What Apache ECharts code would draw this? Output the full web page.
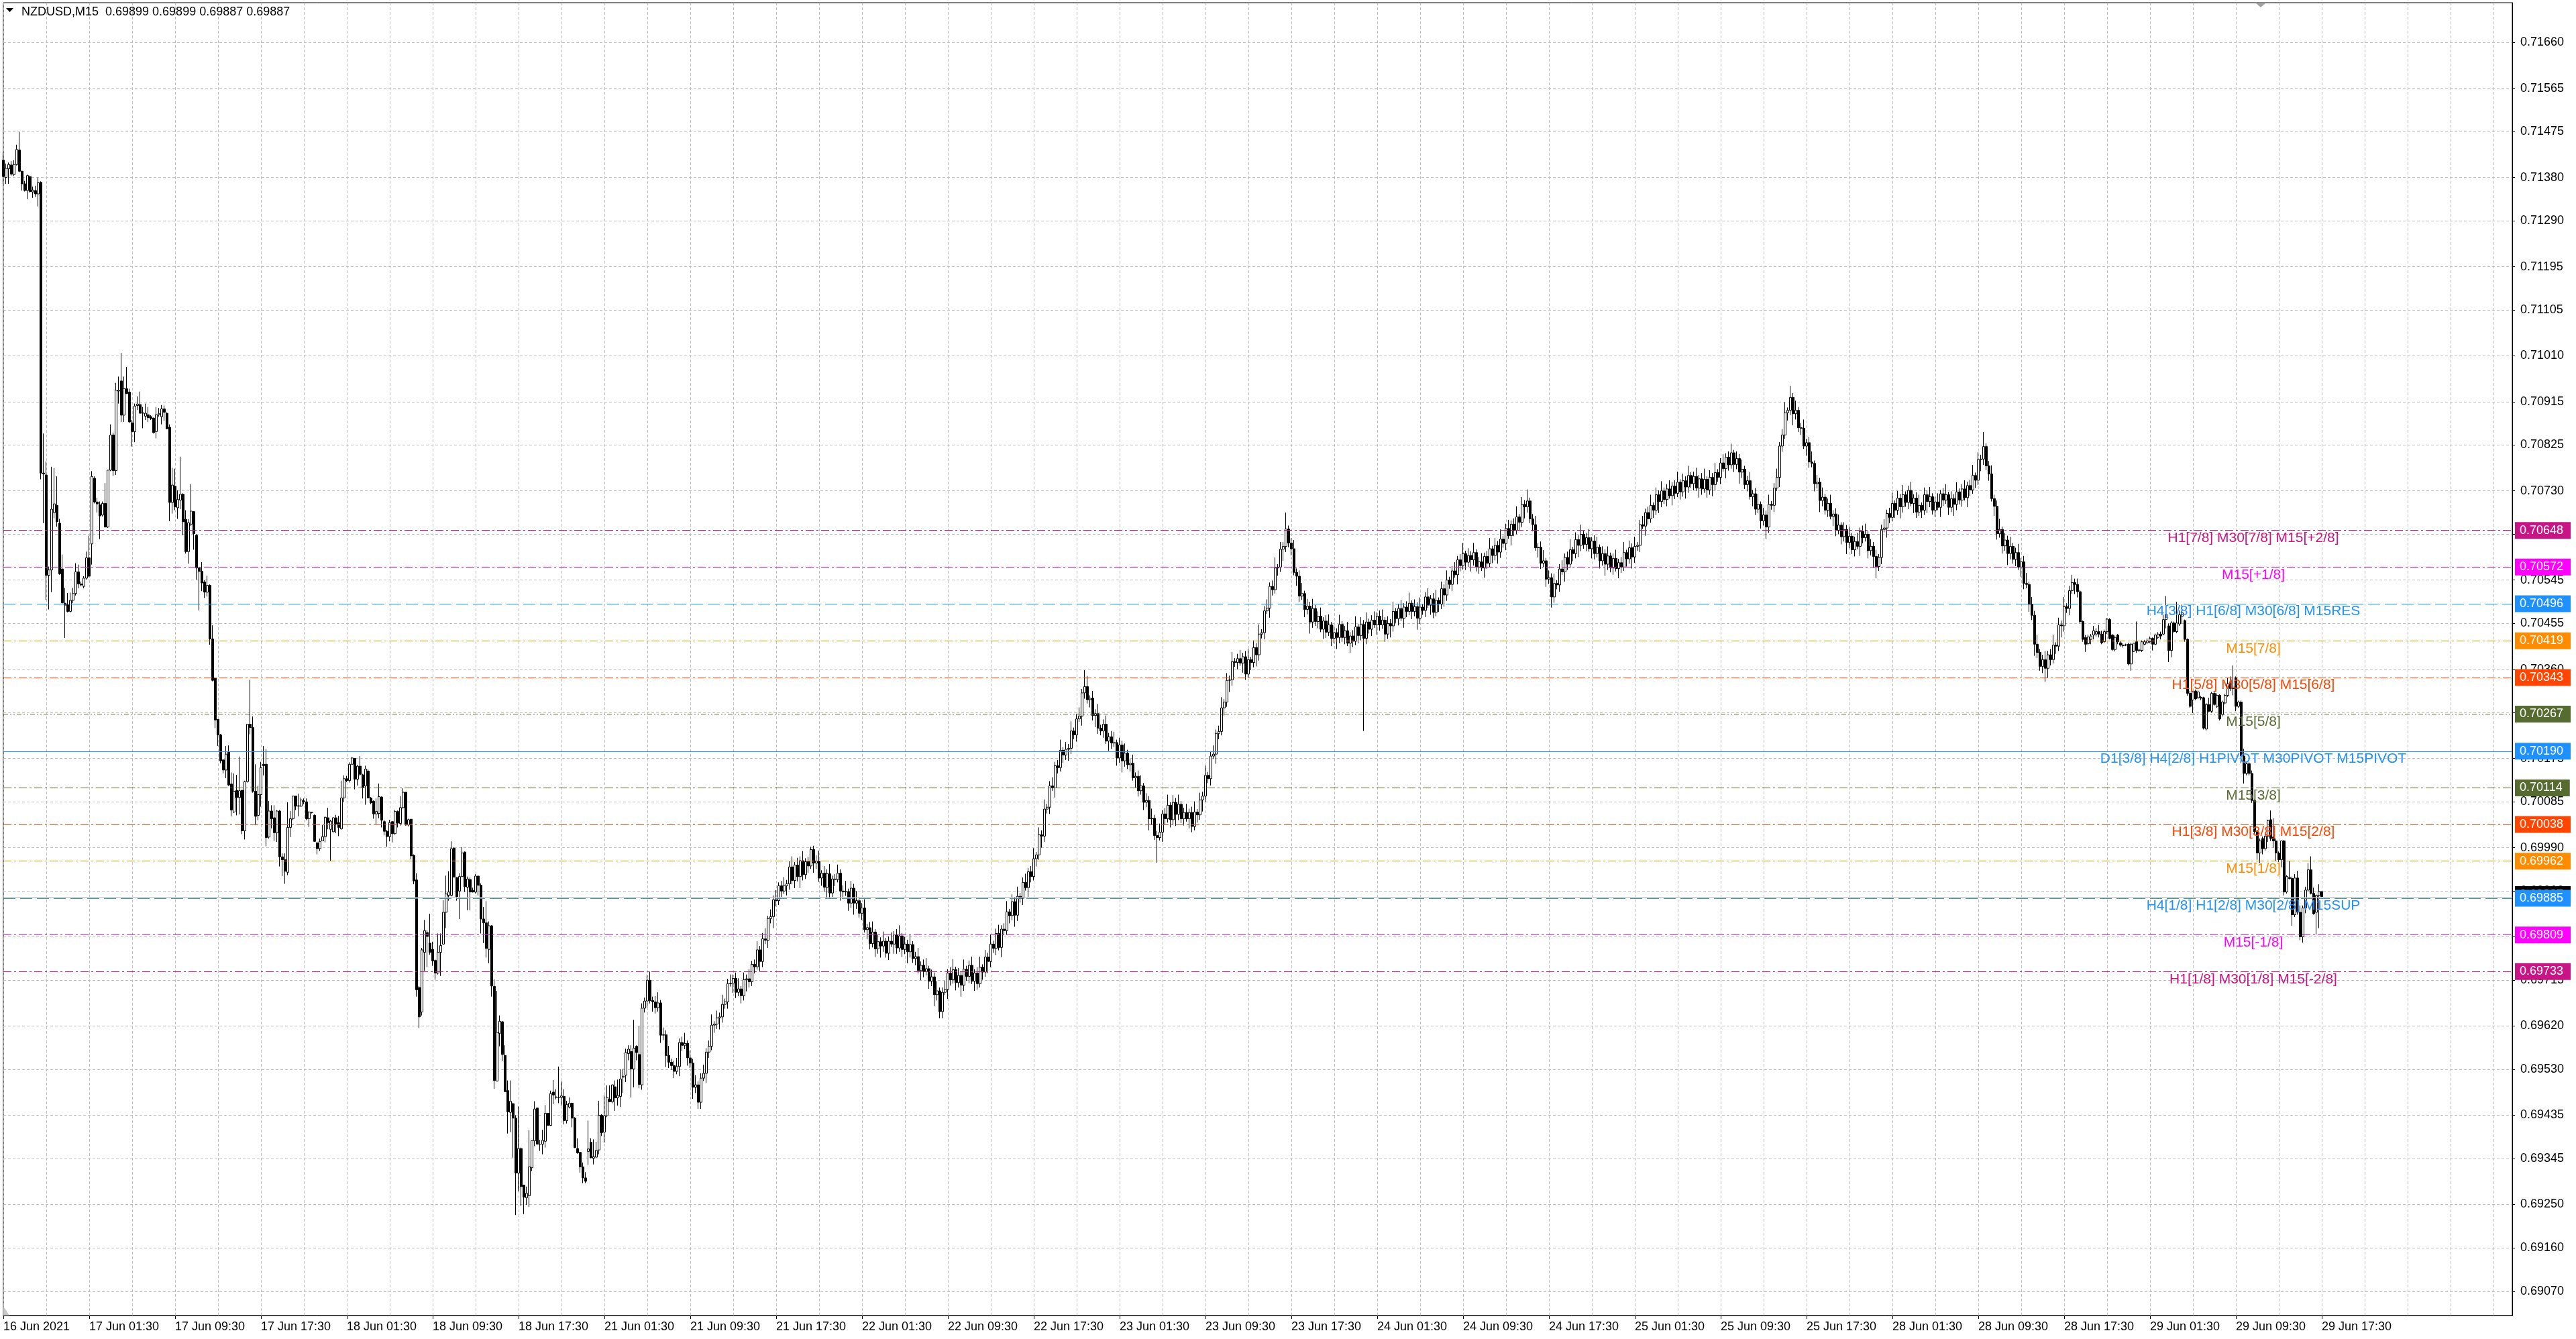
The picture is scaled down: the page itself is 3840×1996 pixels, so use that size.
<!DOCTYPE html>
<html><head><meta charset="utf-8">
<script src="https://cdn.jsdelivr.net/npm/echarts@6/dist/echarts.min.js"></script>
<style>html,body{margin:0;padding:0;background:#fff}#c{width:3840px;height:1996px}</style>
</head><body><div id="c"></div>
<script>
const SYMBOL = 'NZDUSD,M15';
const POINT = 0.00001;
// One row per 15-minute bar: [open, high, low, close] in points (1e-5)
const jun16 = [
[71416,71432,71367,71382],[71380,71409,71367,71399],[71398,71411,71367,71407],[71406,71414,71384,71387],
[71386,71416,71383,71407],[71407,71448,71405,71438],[71437,71474,71391,71393],[71393,71394,71353,71367],
[71367,71373,71351,71353],[71353,71386,71335,71384],[71382,71384,71349,71351],[71350,71361,71338,71354],
[71353,71363,71340,71346],[71346,71380,71320,71369],[71370,71372,70754,70767],[70767,70849,70663,70765],
[70763,70791,70504,70555],[70555,70573,70484,70566],[70566,70780,70520,70692],[70685,70777,70673,70703],
[70700,70760,70656,70666],[70663,70672,70556,70558],[70568,70598,70496,70498],[70497,70529,70425,70493],
[70494,70518,70478,70480],[70480,70519,70478,70503]
];
const jun17 = [
[70503,70529,70497,70517],[70517,70580,70513,70562],[70562,70577,70528,70537],[70537,70542,70532,70535],
[70532,70553,70528,70549],[70549,70604,70546,70591],[70591,70637,70551,70553],[70620,70771,70577,70760],
[70756,70760,70704,70707],[70707,70716,70685,70703],[70701,70708,70630,70678],[70680,70708,70677,70704],
[70704,70746,70655,70655],[70655,70773,70653,70773],[70773,70868,70771,70846],[70846,70851,70761,70772],
[70772,70954,70763,70939],[70937,70967,70911,70939],[70958,71016,70873,70887],[70887,70967,70873,70942],
[70942,70987,70931,70932],[70935,70942,70871,70873],[70871,70877,70822,70853],[70853,70911,70831,70906],
[70907,70926,70898,70910],[70909,70936,70891,70891],[70891,70904,70860,70892],[70885,70911,70877,70891],
[70888,70904,70873,70882],[70884,70887,70877,70880],[70881,70882,70849,70851],[70853,70904,70839,70888],
[70888,70902,70884,70890],[70884,70908,70868,70900],[70900,70907,70875,70893],[70891,70893,70858,70859],
[70862,70868,70667,70706],[70706,70778,70683,70742],[70740,70776,70690,70697],[70695,70731,70672,70712],
[70711,70801,70692,70723],[70723,70725,70638,70666],[70671,70690,70600,70604],[70604,70671,70579,70664],
[70661,70744,70657,70688],[70687,70688,70608,70641],[70638,70640,70546,70570],[70570,70572,70482,70563],
[70563,70582,70522,70539],[70541,70545,70508,70520],[70520,70554,70511,70534],[70534,70536,70411,70423],
[70423,70451,70335,70337],[70342,70342,70238,70255],[70256,70256,70201,70224],[70224,70226,70165,70170],
[70172,70172,70144,70151],[70151,70201,70134,70184],[70189,70202,70118,70120],[70122,70146,70055,70068],
[70064,70144,70062,70107],[70109,70141,70057,70094],[70094,70179,70059,70108],[70109,70109,70018,70025],
[70025,70129,70007,70127],[70127,70246,70125,70246],[70246,70338,70225,70239],[70239,70262,70104,70107],
[70107,70163,70037,70055],[70057,70118,70047,70100],[70100,70168,70075,70156],[70163,70201,70140,70160],
[70163,70194,69993,70011],[70012,70087,70009,70066],[70066,70078,70030,70050],[70052,70078,70004,70021],
[70021,70068,70002,70066],[70066,70068,69951,69971],[69971,69978,69931,69965],[69965,69978,69915,69941],
[69939,70084,69933,70032],[70032,70066,70012,70050],[70050,70097,70047,70097],[70097,70097,70068,70076],
[70077,70102,70055,70076],[70076,70094,70075,70089],[70087,70092,70080,70086],[70085,70092,70047,70050],
[70050,70066,70033,70064],[70063,70064,70061,70063],[70057,70059,70002,70003],[70000,70002,69976,69988],
[69988,70009,69983,70003],[70004,70037,70004,70013],[70013,70055,70001,70053],[70052,70073,70028,70042]
];
const jun18 = [
[70028,70048,69963,70045],[70023,70053,70022,70052],[70052,70058,70020,70039],[70042,70056,70014,70032],
[70029,70129,70027,70093],[70093,70140,70084,70133],[70133,70139,70126,70129],[70129,70167,70125,70163],
[70163,70178,70162,70176],[70175,70176,70111,70132],[70132,70162,70119,70159],[70159,70180,70139,70142],
[70141,70143,70092,70115],[70118,70160,70079,70153],[70149,70153,70092,70093],[70093,70095,70080,70083],
[70086,70088,70050,70060],[70060,70092,70039,70065],[70061,70123,70051,70096],[70095,70096,70032,70047],
[70044,70048,70016,70024],[70024,70027,69992,70013],[70013,70048,70003,70042],[70044,70045,70001,70019],
[70019,70068,70017,70065],[70065,70067,70032,70041],[70040,70097,70036,70073],[70073,70113,70071,70105],
[70105,70105,70036,70037],[70037,70050,70034,70048],[70049,70049,69966,69973],[69974,69976,69914,69921],
[69923,69937,69681,69695],[69700,69703,69616,69639],[69649,69782,69642,69778],[69773,69840,69735,69818],
[69814,69819,69742,69806],[69792,69853,69768,69773],[69779,69795,69745,69755],[69756,69758,69716,69730],
[69730,69812,69727,69773],[69773,69812,69724,69787],[69790,69881,69789,69856],[69856,69932,69823,69894],
[69891,69941,69880,69898],[69891,70003,69889,69988],[69989,69991,69928,69929],[69928,69929,69880,69888],
[69900,69937,69842,69930],[69930,69991,69929,69979],[69981,69982,69898,69909],[69908,69930,69860,69925],
[69924,69928,69860,69898],[69901,69907,69897,69898],[69898,69935,69895,69931],[69931,69932,69891,69912],
[69912,69916,69812,69842],[69842,69867,69792,69834],[69834,69879,69762,69781],[69779,69837,69750,69828],
[69828,69829,69681,69703],[69702,69717,69490,69507],[69506,69693,69505,69607],[69605,69642,69578,69630],
[69629,69630,69547,69561],[69559,69580,69484,69484],[69486,69507,69397,69442],[69441,69507,69400,69464],
[69459,69461,69347,69429],[69429,69435,69228,69315],[69315,69453,69277,69366],[69366,69368,69247,69287],
[69290,69291,69230,69265],[69264,69287,69249,69273],[69268,69404,69245,69328],[69326,69383,69319,69382],
[69382,69464,69371,69448],[69450,69451,69374,69375],[69375,69384,69361,69375],[69375,69405,69354,69383],
[69381,69456,69368,69439],[69439,69440,69413,69414],[69414,69486,69413,69480],[69483,69508,69458,69477],
[69473,69489,69468,69472],[69472,69536,69460,69472],[69472,69505,69455,69475],[69474,69489,69416,69424],
[69424,69465,69418,69457],[69452,69472,69449,69460],[69460,69461,69410,69429],[69429,69431,69367,69368],
[69366,69387,69355,69357],[69358,69359,69316,69328],[69328,69337,69294,69305],[69305,69317,69294,69298]
];
const jun21 = [
[69360,69424,69332,69365],[69379,69387,69346,69347],[69346,69385,69333,69349],[69348,69380,69347,69362],
[69363,69465,69354,69435],[69435,69437,69392,69399],[69400,69476,69378,69434],[69434,69497,69431,69472],
[69468,69497,69462,69463],[69463,69499,69460,69498],[69494,69507,69444,69471],[69471,69509,69455,69476],
[69474,69530,69452,69510],[69514,69531,69481,69516],[69518,69573,69504,69565],[69563,69580,69549,69572],
[69567,69580,69472,69531],[69531,69633,69493,69574],[69578,69580,69549,69565],[69561,69620,69491,69499],
[69498,69667,69488,69657],[69657,69679,69648,69672],[69672,69725,69658,69715],[69715,69733,69667,69673],
[69673,69681,69650,69670],[69670,69682,69646,69658],[69658,69690,69650,69668],[69668,69674,69585,69601],
[69601,69617,69591,69602],[69602,69611,69535,69559],[69559,69579,69533,69545],[69545,69552,69529,69538],
[69538,69548,69512,69526],[69526,69554,69520,69536],[69536,69594,69516,69586],[69586,69598,69568,69580],
[69580,69606,69572,69584],[69584,69590,69538,69554],[69554,69569,69533,69543],[69543,69552,69469,69493],
[69493,69518,69481,69498],[69498,69505,69448,69462],[69462,69522,69448,69512],[69512,69540,69506,69522],
[69522,69574,69502,69566],[69566,69590,69554,69578],[69578,69644,69570,69622],[69622,69630,69606,69624],
[69624,69652,69614,69637],[69637,69648,69613,69639],[69639,69685,69627,69665],[69665,69677,69656,69670],
[69670,69718,69656,69708],[69708,69727,69702,69709],[69709,69727,69689,69719],[69719,69731,69678,69690],
[69690,69719,69682,69697],[69697,69703,69667,69683],[69683,69731,69673,69716],[69716,69727,69692,69718],
[69718,69738,69700,69712],[69712,69755,69703,69748],[69748,69758,69729,69743],[69743,69796,69737,69778],
[69778,69786,69734,69754],[69754,69813,69742,69801],[69801,69823,69790,69798],[69798,69849,69782,69843],
[69843,69862,69833,69847],[69847,69891,69823,69882],[69882,69902,69868,69880],[69880,69918,69871,69911],
[69911,69921,69886,69900],[69900,69929,69894,69911],[69911,69923,69891,69915],[69915,69962,69903,69950],
[69950,69972,69914,69922],[69922,69960,69906,69954],[69954,69969,69920,69930],[69930,69972,69906,69963],
[69963,69983,69922,69934],[69934,69968,69925,69961],[69961,69971,69938,69952],[69952,69992,69946,69986],
[69986,69994,69938,69958],[69958,69974,69946,69962],[69962,69984,69919,69927],[69927,69943,69911,69937],
[69937,69952,69898,69908],[69908,69945,69884,69936],[69936,69956,69884,69896],[69896,69932,69887,69925],
[69925,69935,69910,69924],[69924,69955,69918,69937],[69937,69945,69880,69900],[69900,69912,69886,69898]
];
const jun22 = [
[69898,69921,69890,69899],[69899,69905,69859,69875],[69875,69921,69865,69906],[69906,69915,69851,69875],
[69875,69900,69863,69880],[69880,69887,69845,69854],[69854,69875,69840,69865],[69865,69883,69814,69820],
[69820,69832,69800,69824],[69824,69836,69779,69791],[69791,69837,69783,69815],[69815,69821,69764,69780],
[69780,69810,69770,69795],[69795,69804,69762,69786],[69786,69816,69774,69796],[69796,69803,69762,69771],
[69771,69806,69757,69796],[69796,69814,69784,69790],[69790,69817,69770,69809],[69809,69821,69770,69782],
[69782,69829,69774,69807],[69807,69813,69763,69779],[69779,69805,69769,69790],[69790,69799,69750,69774],
[69774,69809,69762,69789],[69789,69796,69751,69760],[69760,69774,69746,69764],[69764,69782,69729,69735],
[69735,69754,69715,69746],[69746,69758,69721,69733],[69733,69761,69725,69739],[69739,69745,69697,69713],
[69713,69737,69703,69722],[69722,69731,69661,69685],[69685,69713,69673,69693],[69693,69700,69636,69650],
[69650,69700,69636,69690],[69690,69714,69684,69696],[69696,69738,69676,69730],[69730,69742,69704,69716],
[69716,69759,69708,69737],[69737,69743,69694,69710],[69710,69740,69700,69725],[69725,69734,69681,69705],
[69705,69758,69693,69738],[69738,69745,69714,69723],[69723,69756,69709,69746],[69746,69764,69707,69713],
[69713,69738,69693,69730],[69730,69742,69696,69708],[69708,69764,69700,69742],[69742,69748,69716,69732],
[69732,69778,69722,69763],[69763,69772,69730,69754],[69754,69810,69742,69790],[69790,69797,69772,69781],
[69781,69822,69767,69812],[69812,69830,69777,69783],[69783,69829,69763,69821],[69821,69833,69808,69818],
[69818,69879,69810,69857],[69857,69863,69833,69849],[69849,69893,69839,69878],[69878,69887,69826,69850],
[69850,69909,69838,69889],[69889,69896,69876,69885],[69885,69928,69871,69918],[69918,69936,69901,69907],
[69907,69948,69887,69940],[69940,69952,69918,69930],[69930,69989,69922,69967],[69967,69981,69951,69975],
[69975,70032,69965,70017],[70017,70026,69990,70014],[70014,70090,70002,70070],[70070,70081,70061,70074],
[70074,70128,70060,70118],[70118,70136,70108,70114],[70114,70168,70094,70160],[70160,70172,70144,70156],
[70156,70214,70148,70192],[70192,70198,70166,70182],[70182,70209,70172,70194],[70194,70205,70170,70196],
[70196,70252,70184,70232],[70232,70239,70215,70224],[70224,70267,70210,70257],[70257,70281,70251,70263],
[70263,70319,70243,70311],[70311,70358,70299,70324],[70324,70346,70289,70297],[70297,70306,70281,70300],
[70300,70315,70254,70264],[70264,70277,70240,70268],[70268,70288,70226,70238],[70238,70245,70223,70232]
];
const jun23 = [
[70232,70256,70218,70246],[70246,70264,70205,70211],[70211,70228,70191,70220],[70220,70232,70195,70207],
[70207,70230,70199,70208],[70208,70214,70160,70176],[70176,70218,70166,70203],[70203,70212,70146,70170],
[70170,70206,70158,70186],[70186,70193,70153,70162],[70162,70175,70148,70165],[70165,70183,70129,70135],
[70135,70146,70115,70138],[70138,70150,70096,70108],[70108,70140,70100,70118],[70118,70124,70068,70084],
[70084,70103,70074,70088],[70088,70097,70026,70050],[70050,70071,70038,70051],[70051,70058,70006,70015],
[70015,70025,69959,70011],[70011,70040,70005,70022],[70022,70068,70002,70060],[70060,70072,70038,70050],
[70050,70100,70042,70078],[70078,70084,70032,70048],[70048,70099,70038,70084],[70084,70093,70035,70059],
[70059,70100,70047,70080],[70080,70087,70041,70050],[70050,70073,70036,70063],[70063,70081,70044,70050],
[70050,70071,70030,70063],[70063,70075,70022,70034],[70034,70086,70026,70064],[70064,70070,70042,70058],
[70058,70104,70048,70089],[70089,70106,70065,70097],[70097,70160,70085,70140],[70140,70147,70124,70133],
[70133,70190,70119,70180],[70180,70202,70174,70184],[70184,70235,70164,70227],[70227,70243,70215,70231],
[70231,70302,70223,70280],[70280,70298,70264,70292],[70292,70352,70282,70337],[70337,70347,70313,70338],
[70338,70396,70326,70376],[70376,70383,70365,70374],[70374,70392,70360,70382],[70382,70400,70367,70373],
[70373,70394,70353,70386],[70386,70398,70338,70350],[70350,70402,70342,70380],[70380,70386,70358,70374],
[70374,70420,70364,70405],[70405,70414,70366,70390],[70390,70453,70378,70433],[70433,70443,70424,70436],
[70436,70491,70422,70481],[70481,70505,70475,70487],[70487,70540,70467,70532],[70532,70544,70513,70525],
[70525,70592,70517,70570],[70570,70578,70554,70572],[70572,70624,70562,70609],[70609,70624,70585,70615],
[70615,70685,70603,70651],[70651,70658,70613,70622],[70622,70632,70596,70610],[70610,70628,70555,70561],
[70561,70569,70533,70553],[70553,70565,70500,70512],[70512,70539,70504,70517],[70517,70523,70468,70484],
[70484,70506,70474,70491],[70491,70500,70434,70458],[70458,70506,70446,70486],[70486,70493,70450,70459],
[70459,70480,70445,70470],[70470,70488,70437,70443],[70443,70468,70423,70460],[70460,70472,70425,70437],
[70437,70474,70429,70452],[70452,70458,70408,70424],[70424,70451,70414,70436],[70436,70445,70402,70426],
[70426,70473,70414,70453],[70453,70460,70417,70426],[70426,70450,70412,70440],[70440,70458,70408,70414],
[70414,70437,70394,70429],[70429,70441,70406,70418],[70418,70470,70410,70448],[70448,70454,70414,70430]
];
const jun24 = [
[70430,70468,70420,70453],[70453,70462,70232,70424],[70424,70478,70412,70458],[70458,70465,70434,70443],
[70443,70472,70429,70462],[70462,70480,70446,70452],[70452,70478,70432,70470],[70470,70482,70440,70452],
[70452,70484,70444,70462],[70462,70468,70417,70433],[70433,70470,70423,70455],[70455,70464,70426,70450],
[70450,70500,70438,70480],[70480,70487,70456,70465],[70465,70496,70451,70486],[70486,70504,70460,70466],
[70466,70497,70446,70489],[70489,70501,70468,70480],[70480,70519,70472,70497],[70497,70503,70464,70480],
[70480,70505,70470,70490],[70490,70499,70442,70466],[70466,70509,70454,70489],[70489,70496,70473,70482],
[70482,70520,70468,70510],[70510,70528,70487,70493],[70493,70514,70473,70506],[70506,70518,70466,70478],
[70478,70525,70470,70503],[70503,70509,70479,70495],[70495,70542,70485,70527],[70527,70536,70490,70514],
[70514,70565,70502,70545],[70545,70552,70527,70536],[70536,70574,70522,70564],[70564,70582,70550,70556],
[70556,70595,70536,70587],[70587,70599,70563,70575],[70575,70622,70567,70600],[70600,70606,70566,70582],
[70582,70611,70572,70596],[70596,70605,70563,70587],[70587,70622,70575,70602],[70602,70609,70563,70572],
[70572,70593,70558,70583],[70583,70601,70564,70570],[70570,70602,70550,70594],[70594,70606,70568,70580],
[70580,70632,70572,70610],[70610,70616,70580,70596],[70596,70632,70586,70617],[70617,70626,70579,70603],
[70603,70650,70591,70630],[70630,70637,70612,70621],[70621,70662,70607,70652],[70652,70670,70631,70637],
[70637,70669,70617,70661],[70661,70673,70636,70648],[70648,70698,70640,70676],[70676,70682,70649,70665],
[70665,70717,70655,70702],[70702,70711,70673,70697],[70697,70733,70685,70709],[70709,70716,70663,70672],
[70672,70682,70646,70660],[70660,70678,70606,70612],[70612,70621,70592,70613],[70613,70625,70568,70580],
[70580,70607,70572,70585],[70585,70591,70531,70547],[70547,70565,70537,70550],[70550,70559,70488,70510],
[70510,70558,70498,70538],[70538,70545,70526,70535],[70535,70578,70521,70568],[70568,70586,70556,70562],
[70562,70600,70542,70592],[70592,70604,70566,70578],[70578,70630,70570,70608],[70608,70614,70584,70600],
[70600,70644,70590,70629],[70629,70638,70593,70617],[70617,70660,70605,70640],[70640,70647,70610,70619],
[70619,70643,70605,70633],[70633,70651,70604,70610],[70610,70634,70590,70626],[70626,70638,70588,70600],
[70600,70635,70592,70613],[70613,70619,70569,70585],[70585,70615,70575,70600],[70600,70609,70554,70578],
[70578,70615,70566,70595],[70595,70602,70561,70570],[70570,70600,70556,70590],[70590,70608,70563,70569]
];
const jun25 = [
[70569,70589,70549,70581],[70581,70593,70560,70572],[70572,70624,70564,70602],[70602,70608,70573,70589],
[70589,70627,70579,70612],[70612,70621,70569,70593],[70593,70635,70581,70615],[70615,70624,70606,70617],
[70617,70670,70603,70660],[70660,70678,70651,70657],[70657,70693,70637,70685],[70685,70697,70660,70672],
[70672,70722,70664,70700],[70700,70706,70674,70690],[70690,70737,70680,70722],[70722,70731,70684,70708],
[70708,70750,70696,70730],[70730,70737,70703,70712],[70712,70744,70698,70734],[70734,70752,70714,70720],
[70720,70748,70700,70740],[70740,70752,70713,70725],[70725,70770,70717,70748],[70748,70754,70712,70728],
[70728,70766,70718,70751],[70751,70760,70714,70738],[70738,70782,70726,70762],[70762,70769,70736,70745],
[70745,70770,70731,70760],[70760,70778,70730,70736],[70736,70763,70716,70755],[70755,70767,70722,70734],
[70734,70776,70726,70754],[70754,70760,70716,70732],[70732,70773,70722,70758],[70758,70767,70719,70743],
[70743,70788,70731,70768],[70768,70775,70749,70758],[70758,70798,70744,70788],[70788,70806,70770,70776],
[70776,70808,70756,70800],[70800,70812,70772,70784],[70784,70828,70776,70809],[70809,70815,70769,70785],
[70785,70812,70775,70797],[70797,70806,70745,70769],[70769,70795,70757,70775],[70775,70782,70734,70743],
[70743,70761,70729,70751],[70751,70769,70712,70718],[70718,70732,70698,70724],[70724,70736,70680,70692],
[70692,70724,70684,70702],[70702,70708,70652,70668],[70668,70695,70658,70680],[70680,70689,70631,70655],
[70655,70722,70643,70702],[70702,70709,70691,70700],[70700,70746,70686,70736],[70736,70776,70730,70758],
[70758,70831,70738,70823],[70823,70858,70811,70846],[70846,70914,70838,70892],[70892,70903,70876,70897],
[70897,70948,70887,70924],[70924,70933,70866,70890],[70890,70917,70878,70897],[70897,70904,70852,70861],
[70861,70871,70846,70860],[70860,70878,70817,70823],[70823,70838,70803,70830],[70830,70842,70778,70790],
[70790,70812,70779,70787],[70787,70793,70729,70745],[70745,70763,70735,70748],[70748,70757,70686,70710],
[70710,70737,70698,70717],[70717,70724,70681,70690],[70690,70714,70676,70704],[70704,70722,70671,70677],
[70677,70690,70657,70682],[70682,70694,70636,70648],[70648,70681,70640,70659],[70659,70665,70619,70635],
[70635,70665,70625,70650],[70650,70659,70599,70623],[70623,70656,70611,70636],[70636,70643,70599,70608],
[70608,70635,70594,70625],[70625,70643,70609,70615],[70615,70654,70595,70646],[70646,70658,70621,70633],
[70633,70662,70625,70640],[70640,70646,70590,70606],[70606,70630,70596,70615],[70615,70624,70570,70594]
];
const jun28 = [
[70594,70608,70549,70573],[70573,70599,70564,70592],[70592,70660,70578,70650],[70650,70671,70644,70653],
[70653,70691,70633,70683],[70683,70695,70663,70675],[70675,70726,70667,70704],[70704,70710,70674,70690],
[70690,70730,70680,70715],[70715,70724,70673,70697],[70697,70742,70685,70722],[70722,70729,70697,70706],
[70706,70741,70692,70731],[70731,70749,70698,70704],[70704,70723,70684,70715],[70715,70727,70674,70686],
[70686,70722,70678,70700],[70700,70706,70674,70690],[70690,70737,70680,70722],[70722,70731,70684,70708],
[70708,70738,70696,70718],[70718,70725,70681,70690],[70690,70717,70676,70707],[70707,70725,70690,70696],
[70696,70732,70676,70724],[70724,70736,70699,70711],[70711,70744,70703,70722],[70722,70728,70680,70696],
[70696,70729,70686,70714],[70714,70723,70678,70702],[70702,70748,70690,70728],[70728,70735,70702,70711],
[70711,70744,70697,70734],[70734,70752,70710,70716],[70716,70749,70696,70741],[70741,70753,70720,70732],
[70732,70784,70724,70762],[70762,70768,70736,70752],[70752,70810,70742,70795],[70795,70805,70771,70796],
[70796,70852,70784,70822],[70822,70829,70773,70782],[70782,70792,70751,70765],[70765,70783,70708,70714],
[70714,70722,70678,70698],[70698,70710,70629,70641],[70641,70672,70633,70650],[70650,70656,70600,70616],
[70616,70643,70606,70628],[70628,70637,70576,70600],[70600,70635,70588,70615],[70615,70622,70579,70588],
[70588,70612,70574,70602],[70602,70620,70566,70572],[70572,70591,70552,70583],[70583,70595,70526,70538],
[70538,70560,70528,70536],[70536,70542,70479,70495],[70495,70510,70462,70472],[70472,70481,70388,70412],
[70412,70432,70383,70395],[70395,70402,70357,70366],[70366,70390,70352,70380],[70380,70398,70334,70362],
[70362,70398,70342,70390],[70390,70402,70368,70380],[70380,70432,70372,70410],[70410,70416,70392,70408],
[70408,70467,70398,70452],[70452,70461,70426,70450],[70450,70510,70438,70490],[70490,70497,70477,70486],
[70486,70533,70472,70523],[70523,70556,70517,70540],[70540,70548,70516,70536],[70536,70548,70509,70521],
[70521,70525,70455,70459],[70459,70461,70417,70422],[70426,70431,70396,70412],[70413,70432,70410,70427],
[70422,70433,70412,70429],[70431,70450,70422,70440],[70433,70445,70428,70438],[70438,70452,70426,70433],
[70433,70440,70412,70415],[70417,70442,70414,70438],[70438,70466,70433,70464],[70463,70466,70422,70424],
[70431,70433,70398,70401],[70401,70430,70397,70426],[70431,70433,70412,70417],[70415,70418,70407,70410],
[70410,70414,70405,70409],[70410,70413,70408,70411],[70412,70415,70368,70371],[70371,70415,70357,70412]
];
const jun29 = [
[70397,70415,70396,70414],[70417,70459,70394,70399],[70399,70403,70396,70400],[70399,70420,70396,70417],
[70412,70421,70410,70417],[70415,70424,70412,70419],[70417,70428,70414,70424],[70424,70426,70399,70412],
[70412,70434,70410,70431],[70426,70437,70423,70433],[70433,70438,70422,70429],[70433,70473,70431,70463],
[70463,70512,70445,70474],[70450,70455,70375,70399],[70399,70460,70385,70456],[70456,70459,70436,70438],
[70438,70500,70435,70456],[70454,70482,70450,70473],[70470,70494,70454,70477],[70461,70463,70417,70422],
[70422,70424,70305,70310],[70310,70315,70280,70283],[70296,70314,70269,70313],[70315,70318,70296,70299],
[70301,70316,70298,70313],[70302,70305,70296,70300],[70301,70303,70235,70238],[70236,70290,70233,70287],
[70287,70301,70271,70273],[70273,70313,70270,70310],[70310,70313,70284,70287],[70283,70310,70280,70306],
[70306,70308,70254,70257],[70266,70295,70262,70292],[70290,70309,70287,70306],[70306,70343,70303,70330],
[70330,70345,70315,70320],[70320,70368,70306,70321],[70343,70345,70273,70283],[70283,70295,70280,70292],
[70292,70295,70165,70180],[70180,70195,70123,70144],[70144,70168,70140,70164],[70164,70167,70140,70144],
[70144,70150,70083,70088],[70088,70090,70018,70023],[70023,70027,69965,69979],[69979,70009,69958,70004],
[70009,70013,69976,69988],[69988,70018,69984,70014],[70014,70048,70002,70046],[70048,70067,70004,70009],
[70012,70051,69990,70004],[70004,70009,69963,69979],[69979,69982,69960,69965],[69965,70005,69949,70004],
[70004,70006,69891,69898],[69898,69933,69895,69930],[69928,69962,69924,69926],[69926,69930,69828,69851],
[69851,69935,69846,69927],[69927,69942,69851,69856],[69856,69870,69798,69805],[69805,69870,69793,69865],
[69865,69909,69854,69902],[69902,69958,69898,69944],[69944,69972,69893,69895],[69895,69907,69851,69853],
[69856,69893,69810,69891],[69891,69914,69823,69899],[69899,69899,69887,69887]
];
const days = [jun16, jun17, jun18, jun21, jun22, jun23, jun24, jun25, jun28, jun29];

const timeLabels = ['16 Jun 2021','17 Jun 01:30','17 Jun 09:30','17 Jun 17:30','18 Jun 01:30','18 Jun 09:30',
 '18 Jun 17:30','21 Jun 01:30','21 Jun 09:30','21 Jun 17:30','22 Jun 01:30','22 Jun 09:30','22 Jun 17:30',
 '23 Jun 01:30','23 Jun 09:30','23 Jun 17:30','24 Jun 01:30','24 Jun 09:30','24 Jun 17:30','25 Jun 01:30',
 '25 Jun 09:30','25 Jun 17:30','28 Jun 01:30','28 Jun 09:30','28 Jun 17:30','29 Jun 01:30','29 Jun 09:30','29 Jun 17:30'];
const priceTicks = [0.69070,0.69160,0.69250,0.69345,0.69435,0.69530,0.69620,0.69715,0.69805,0.69900,0.69990,
 0.70085,0.70175,0.70270,0.70360,0.70455,0.70545,0.70640,0.70730,0.70825,0.70915,0.71010,0.71105,0.71195,
 0.71290,0.71380,0.71475,0.71565,0.71660];
const levelPrices = [0.70648,0.70572,0.70496,0.70419,0.70343,0.70267,0.70190,0.70114,0.70038,0.69962,0.69885,0.69809,0.69733];
const levelNames = ['H1[7/8] M30[7/8] M15[+2/8]','M15[+1/8]','H4[3/8] H1[6/8] M30[6/8] M15RES','M15[7/8]',
 'H1[5/8] M30[5/8] M15[6/8]','M15[5/8]','D1[3/8] H4[2/8] H1PIVOT M30PIVOT M15PIVOT','M15[3/8]',
 'H1[3/8] M30[3/8] M15[2/8]','M15[1/8]','H4[1/8] H1[2/8] M30[2/8] M15SUP','M15[-1/8]','H1[1/8] M30[1/8] M15[-2/8]'];
const levelColors = ['#C71585','#FF00FF','#1E90FF','#FF8C00','#FF4500','#556B2F','#1E90FF','#556B2F','#FF4500','#FF8C00','#1E90FF','#FF00FF','#C71585'];
const levelStyles = ['dashdot','dashdot','dash','dashdot','dashdot','dashdotdot','solid','dashdot','dashdot','dashdot','dash','dashdot','dashdot'];
const bidPrice = 0.69887;

const SLOTS = 936;          // bar slots across the plot incl. right shift
const BARS_PER_LABEL = 32;  // 8 hours of M15 bars
const BARS_PER_GRID = 16;   // 4 hours
const NAME_SPAN = [742, SLOTS - 1]; // level names are centred over this slot span

const FONT = 'Liberation Sans, Arial, sans-serif';
const DASH = {dashdot:[12,4,3,4], dashdotdot:[7,3,2,3,2,3], dash:[18,7], solid:'solid'};

const bars = [].concat(...days);
const slots = Array.from({length: SLOTS}, (_, i) => String(i));
const candleData = bars.map(b => [b[0]*POINT, b[3]*POINT, b[2]*POINT, b[1]*POINT]);
const lastBar = bars[bars.length - 1];
const quoteText = lastBar.map(v => (v*POINT).toFixed(5)).join(' ');

const isLabelSlot = (i) => i % BARS_PER_LABEL === 0 && i / BARS_PER_LABEL < timeLabels.length;

const boxLabel = (text, bg, extra) => Object.assign({show: true, position: 'end', distance: 4, formatter: text,
  color: '#fff', backgroundColor: bg, padding: [4, 11, 3, 7], fontSize: 18, lineHeight: 18, fontFamily: FONT}, extra || {});

const levelLines = [{
  yAxis: bidPrice,
  lineStyle: {color: '#C0C0C0', type: 'solid', width: 1},
  label: boxLabel(bidPrice.toFixed(5), '#000', {offset: [0, -4]})
}];
levelPrices.forEach((p, k) => {
  levelLines.push({
    yAxis: p,
    lineStyle: {color: levelColors[k], type: DASH[levelStyles[k]], width: 1},
    label: boxLabel(p.toFixed(5), levelColors[k])
  });
});

const baseGraphics = [
  {type: 'polygon', shape: {points: [[9, 12], [20, 12], [14.5, 18]]}, style: {fill: '#000'}, z: 10},
  {type: 'text', x: 32, y: 9, z: 10, style: {text: SYMBOL + '  ' + quoteText, font: '18px ' + FONT, fill: '#000'}},
  {type: 'polygon', shape: {points: [[3362, 4], [3378, 4], [3370, 11]]}, style: {fill: '#A0A0A0'}, z: 10},
  {type: 'polygon', shape: {points: [[5, 1947], [5, 1961], [14, 1961]]}, style: {fill: '#C8C8C8'}, z: 10}
];

const chart = echarts.init(document.getElementById('c'), null, {renderer: 'canvas'});
chart.setOption({
  animation: false,
  backgroundColor: '#fff',
  grid: {left: 5, right: 95, top: 4, bottom: 35, show: true, borderColor: '#000', borderWidth: 1, backgroundColor: 'transparent'},
  xAxis: {
    type: 'category', data: slots, boundaryGap: false,
    axisLine: {show: true, lineStyle: {color: '#000', width: 1}},
    axisTick: {show: true, interval: (i) => isLabelSlot(i), length: 5, lineStyle: {color: '#000'}},
    axisLabel: {show: true, interval: (i) => isLabelSlot(i), align: 'left', margin: 8,
      formatter: (v, i) => timeLabels[Math.round(i / BARS_PER_LABEL)] || '',
      color: '#000', fontSize: 18, fontFamily: FONT},
    splitLine: {show: true, interval: (i) => i % BARS_PER_GRID === 0, lineStyle: {color: '#C0C0C0', type: [4, 3], width: 1}}
  },
  yAxis: {
    type: 'value', position: 'right', min: 0.690196, max: 0.717426, scale: true,
    axisLine: {show: true, lineStyle: {color: '#000', width: 1}},
    axisTick: {show: true, customValues: priceTicks, length: 4, lineStyle: {color: '#000'}},
    axisLabel: {show: true, customValues: priceTicks, formatter: (v) => v.toFixed(5), margin: 12,
      color: '#000', fontSize: 18, fontFamily: FONT},
    splitLine: {show: true, lineStyle: {color: '#C0C0C0', type: [4, 3], width: 1}}
  },
  series: [
    {
      type: 'candlestick', data: candleData, large: false, progressive: 0, barWidth: 3, z: 3,
      itemStyle: {color: '#fff', color0: '#000', borderColor: '#000', borderColor0: '#000', borderWidth: 1},
      emphasis: {disabled: true}
    },
    {
      type: 'line', data: [], silent: true, z: 4,
      markLine: {silent: true, symbol: ['none', 'none'], animation: false, precision: 5, z: 6, data: levelLines}
    }
  ],
  graphic: baseGraphics
});

// Level names: placed through the chart's own scales
const xA = chart.convertToPixel({xAxisIndex: 0}, slots[NAME_SPAN[0]]);
const xB = chart.convertToPixel({xAxisIndex: 0}, slots[NAME_SPAN[1]]);
const nameGraphics = levelPrices.map((p, k) => ({
  type: 'text', x: (xA + xB) / 2, y: chart.convertToPixel({yAxisIndex: 0}, p) + 1, z: 20, silent: true,
  style: {text: levelNames[k], fill: levelColors[k], font: '21px ' + FONT, align: 'center', verticalAlign: 'top'}
}));
chart.setOption({graphic: baseGraphics.concat(nameGraphics)});
</script></body></html>
